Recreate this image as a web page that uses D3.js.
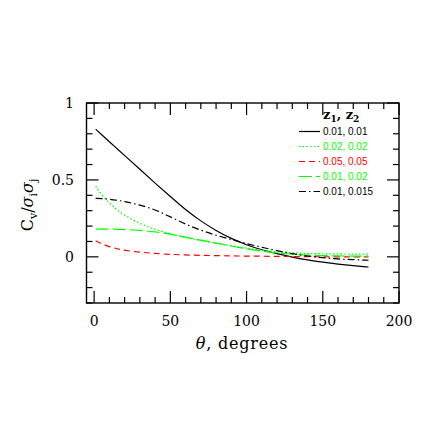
<!DOCTYPE html>
<html>
<head>
<meta charset="utf-8">
<script src="https://cdn.jsdelivr.net/npm/d3@7"></script>
<style>
  html, body { margin: 0; padding: 0; background: #fff; }
  svg { display: block; }
</style>
</head>
<body>
<svg id="chart" width="436" height="436"></svg>
<script>
// ---- data ----
const theta = [1, 5, 10, 15, 20, 30, 40, 50, 60, 70, 80, 90, 100, 110, 120, 130, 140, 150, 160, 170, 180];
const c_001_001 = [0.83, 0.793, 0.748, 0.703, 0.659, 0.569, 0.479, 0.392, 0.305, 0.232, 0.170, 0.118, 0.077, 0.045, 0.02, -0.002, -0.02, -0.035, -0.048, -0.058, -0.066];
const c_002_002 = [0.46, 0.40, 0.35, 0.305, 0.27, 0.215, 0.178, 0.15, 0.125, 0.105, 0.089, 0.072, 0.056, 0.043, 0.033, 0.026, 0.022, 0.02, 0.019, 0.018, 0.018];
const c_005_005 = [0.105, 0.085, 0.066, 0.052, 0.042, 0.03, 0.022, 0.016, 0.012, 0.01, 0.008, 0.006, 0.005, 0.004, 0.003, 0.002, 0.001, 0.0005, 0, 0, 0];
const c_001_002 = [0.18, 0.18, 0.18, 0.179, 0.178, 0.172, 0.163, 0.148, 0.128, 0.108, 0.09, 0.07, 0.052, 0.037, 0.025, 0.017, 0.011, 0.008, 0.006, 0.005, 0.005];
const c_001_0015 = [0.38, 0.379, 0.375, 0.368, 0.36, 0.337, 0.307, 0.26, 0.212, 0.172, 0.14, 0.112, 0.086, 0.062, 0.04, 0.02, 0.005, -0.006, -0.014, -0.019, -0.022];

const seriesNames = ["0.01, 0.01", "0.02, 0.02", "0.05, 0.05", "0.01, 0.02", "0.01, 0.015"];
const seriesValues = [c_001_001, c_002_002, c_005_005, c_001_002, c_001_0015];
const seriesColors = ["#000000", "#00ff00", "#ff0000", "#00ff00", "#000000"];
const seriesDash = [null, "1.5,2.2", "6,4", "13,4", "7,3,1.5,3"];

const xTicks = [0, 50, 100, 150, 200];
const yTicks = [0, 0.5, 1];
const yTickLabels = ["0", "0.5", "1"];

// ---- layout ----
const svg = d3.select("#chart");
const L = 86.5, R = 399, T = 103, B = 303;
const x = d3.scaleLinear().domain([-5, 200]).range([L, R]);
const y = d3.scaleLinear().domain([-0.3, 1]).range([B, T]);

const serif = "'DejaVu Serif', serif";
const sans = "'Liberation Sans', Arial, sans-serif";

// curves
const line = d3.line().x(d => x(d[0])).y(d => y(d[1])).curve(d3.curveBasis);
const g = svg.append("g");
seriesValues.forEach((vals, i) => {
  g.append("path")
    .datum(theta.map((t, k) => [t, vals[k]]))
    .attr("d", line)
    .attr("fill", "none")
    .attr("stroke", seriesColors[i])
    .attr("stroke-width", 1.2)
    .attr("stroke-dasharray", seriesDash[i]);
});

// frame
svg.append("rect").attr("x", L).attr("y", T).attr("width", R - L).attr("height", B - T)
  .attr("fill", "none").attr("stroke", "#000").attr("stroke-width", 1.4);

// ticks (all four sides, inward)
const major = 12, minor = 6;
const xMinor = d3.range(0, 201, 10);
const yMinor = d3.range(-3, 11, 1).map(v => v / 10);
const tg = svg.append("g").attr("stroke", "#000").attr("stroke-width", 1.2);
xMinor.forEach(v => {
  const len = (v % 50 === 0) ? major : minor;
  tg.append("line").attr("x1", x(v)).attr("x2", x(v)).attr("y1", B).attr("y2", B - len);
  tg.append("line").attr("x1", x(v)).attr("x2", x(v)).attr("y1", T).attr("y2", T + len);
});
yMinor.forEach(v => {
  const isMajor = Math.abs(v * 2 - Math.round(v * 2)) < 1e-9;
  const len = isMajor ? major : minor;
  tg.append("line").attr("x1", L).attr("x2", L + len).attr("y1", y(v)).attr("y2", y(v));
  tg.append("line").attr("x1", R).attr("x2", R - len).attr("y1", y(v)).attr("y2", y(v));
});

// x tick labels
svg.append("g").selectAll("text").data(xTicks).join("text")
  .attr("x", d => x(d)).attr("y", 326)
  .attr("text-anchor", "middle")
  .attr("font-family", serif).attr("font-size", 14)
  .text(d => d);

// y tick labels
svg.append("g").selectAll("text").data(yTicks).join("text")
  .attr("x", 74).attr("y", d => y(d) + 5)
  .attr("text-anchor", "end")
  .attr("font-family", serif).attr("font-size", 14)
  .text((d, i) => yTickLabels[i]);

// x label
const xl = svg.append("text").attr("x", 242).attr("y", 349)
  .attr("text-anchor", "middle").attr("font-family", serif).attr("font-size", 16)
  .attr("letter-spacing", 0.8);
xl.append("tspan").attr("font-style", "italic").text("θ");
xl.append("tspan").text(", degrees");

// y label
const yl = svg.append("text")
  .attr("transform", "translate(33,205) rotate(-90)")
  .attr("text-anchor", "middle").attr("font-family", serif).attr("font-size", 16);
yl.append("tspan").text("C");
yl.append("tspan").attr("font-size", 11).attr("dy", 4).text("v");
yl.append("tspan").attr("dy", -4).text("/");
yl.append("tspan").attr("font-style", "italic").text("σ");
yl.append("tspan").attr("font-size", 11).attr("dy", 4).text("i");
yl.append("tspan").attr("dy", -4).attr("font-style", "italic").text("σ");
yl.append("tspan").attr("font-size", 11).attr("dy", 4).text("j");

// legend
const lg = svg.append("g");
const hdr = lg.append("text").attr("x", 323).attr("y", 119)
  .attr("font-family", serif).attr("font-size", 13).attr("font-weight", "bold");
hdr.append("tspan").text("z");
hdr.append("tspan").attr("font-size", 9).attr("dy", 3).text("1");
hdr.append("tspan").attr("dy", -3).text(", z");
hdr.append("tspan").attr("font-size", 9).attr("dy", 3).text("2");

seriesNames.forEach((name, i) => {
  const yy = 131.5 + i * 15;
  lg.append("line").attr("x1", 299).attr("x2", 320).attr("y1", yy).attr("y2", yy)
    .attr("stroke", seriesColors[i]).attr("stroke-width", 1.2)
    .attr("stroke-dasharray", seriesDash[i]);
  lg.append("text").attr("x", 323).attr("y", yy + 3.6)
    .attr("font-family", sans).attr("font-size", 10)
    .attr("fill", seriesColors[i]).text(name);
});
</script>
</body>
</html>
